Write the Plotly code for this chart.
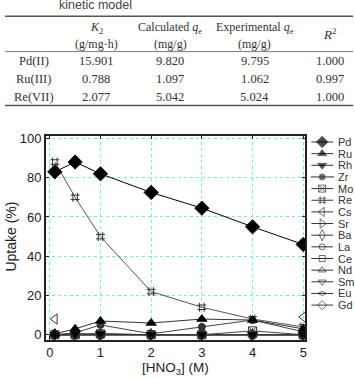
import plotly.graph_objects as go

# ---------------- table data ----------------
metals = ["Pd(II)", "Ru(III)", "Re(VII)"]
k2_vals = ["15.901", "0.788", "2.077"]
calc_qe = ["9.820", "1.097", "5.042"]
exp_qe = ["9.795", "1.062", "5.024"]
r2_vals = ["1.000", "0.997", "1.000"]
header1 = ["", "<i>K</i><sub>2</sub>", "Calculated <i>q</i><sub>e</sub>", "Experimental <i>q</i><sub>e</sub>"]
header2 = ["", "(g/mg·h)", "(mg/g)", "(mg/g)"]
r2_header = "<i>R</i><sup>2</sup>"

# ---------------- chart data ----------------
hno3 = [0.1, 0.5, 1, 2, 3, 4, 5]
elements = ["Pd", "Ru", "Rh", "Zr", "Mo", "Re", "Cs", "Sr", "Ba", "La", "Ce", "Nd", "Sm", "Eu", "Gd"]
pd_u = [83, 88, 82, 72.5, 64.5, 55, 46]
ru_u = [0.5, 3, 7, 6, 8, 7.5, 3]
rh_u = [0, 0.5, 0.5, 0, 0, 0, 0]
zr_u = [0, 1, 5, 0.5, 4, 7.5, 1.5]
mo_u = [0, 0, 0.5, 0, 0, 2, 0]
re_u = [88, 70, 50, 22, 14, 8, 4]
cs_u = [8, None, None, None, None, None, 9]
sr_u = [0, 0, 0, 0, 0, 0, 0]
ba_u = [0, 0, 0, 0, 0, 0, 0]
la_u = [0, 0, 0, 0, 0, 0, 0]
ce_u = [0, 0, 0, 0, 0, 0, 0]
nd_u = [0, 0, 0, 0, 0, 0, 0]
sm_u = [0, 0, 0, 0, 0, 0, 0]
eu_u = [0, 0, 0, 0, 0, 0, 0]
gd_u = [0, 0, 0, 0, 0, 0, 0]
series = [pd_u, ru_u, rh_u, zr_u, mo_u, re_u, cs_u, sr_u, ba_u, la_u, ce_u, nd_u, sm_u, eu_u, gd_u]

symbols = ["diamond", "triangle-up", "triangle-down", "circle-dot", "square-x-open",
           "hash-open", "triangle-left-open", "triangle-right-open", "diamond-tall-open",
           "circle-open", "square-open", "triangle-up-open", "triangle-down-open",
           "diamond-wide-open", "diamond-open"]
sizes = [11, 9, 9, 7, 8, 9, 9, 9, 9, 7, 7, 8, 8, 7, 8]
line_colors = ["#000000", "#333333", "#333333", "#444444", "#444444", "#555555", "#555555",
               "#555555", "#555555", "#555555", "#555555", "#555555", "#555555", "#555555", "#555555"]

W, H = 355, 378
def fx(px):
    return px / W
def fy(py):
    return 1 - py / H

fig = go.Figure()

# draw in reverse so Pd is on top
order = list(range(len(elements)))[::-1]
for i in order:
    sym = symbols[i]
    filled = not sym.endswith("open") and sym != "circle-dot"
    fig.add_trace(go.Scatter(
        x=hno3, y=series[i], mode="lines+markers", name=elements[i],
        line=dict(color=line_colors[i], width=1),
        marker=dict(symbol=sym, size=sizes[i], color="#000000" if filled else "#333333",
                    line=dict(color="#111111" if filled else "#333333", width=1)),
        connectgaps=False, showlegend=False, xaxis="x", yaxis="y"))

# custom legend keys (on a separate hidden axis)
leg_marker_sizes = [9, 8, 8, 6, 7, 8, 8, 8, 8, 6, 6, 7, 7, 6, 7]
for i, el in enumerate(elements):
    sym = symbols[i]
    filled = not sym.endswith("open") and sym != "circle-dot"
    fig.add_trace(go.Scatter(
        x=[0, 0.5, 1], y=[i, i, i], mode="lines+markers",
        line=dict(color="#333333", width=1),
        marker=dict(symbol=sym, size=[0, leg_marker_sizes[i], 0],
                    color="#000000" if filled else "#333333",
                    line=dict(color="#333333", width=1)),
        showlegend=False, xaxis="x2", yaxis="y2", hoverinfo="skip"))
    fig.add_annotation(x=1.12, y=i, xref="x2", yref="y2", text=el, showarrow=False,
                       xanchor="left", yanchor="middle",
                       font=dict(family="Liberation Sans", size=11, color="#333333"))

# ---------------- axes ----------------
grid_col = "#7FE3F2"
fig.update_layout(
    width=W, height=H, margin=dict(l=0, r=0, t=0, b=0),
    paper_bgcolor="white", plot_bgcolor="white",
    xaxis=dict(domain=[fx(46), fx(307)], range=[-0.08, 5.04], tickvals=[0, 1, 2, 3, 4, 5],
               showgrid=True, gridcolor=grid_col, griddash="dot", gridwidth=1,
               zeroline=False, showline=True, linecolor="#222222", linewidth=1.5,
               mirror="ticks", ticks="inside", ticklen=4, tickcolor="#222222",
               tickfont=dict(family="Liberation Sans", size=13, color="#222222"),
               anchor="y"),
    yaxis=dict(domain=[fy(342), fy(134)], range=[-2.5, 101.5], tickvals=[0, 20, 40, 60, 80, 100],
               showgrid=True, gridcolor=grid_col, griddash="dot", gridwidth=1,
               zeroline=False, showline=True, linecolor="#222222", linewidth=1.5,
               mirror="ticks", ticks="inside", ticklen=4, tickcolor="#222222",
               tickfont=dict(family="Liberation Sans", size=13, color="#222222"),
               anchor="x"),
    xaxis2=dict(domain=[fx(313), 1.0], range=[0, (355 - 313) / 22], visible=False, anchor="y2",
                fixedrange=True),
    yaxis2=dict(domain=[fy(330), fy(130)],
                range=[(330 - 140.6) / 11.87, (130 - 140.6) / 11.87],
                visible=False, anchor="x2", fixedrange=True),
)

# axis titles
fig.add_annotation(x=fx(176), y=fy(371.5), xref="paper", yref="paper", showarrow=False,
                   text="[HNO<sub>3</sub>] (M)", xanchor="center", yanchor="middle",
                   font=dict(family="Liberation Sans", size=13.5, color="#222222"))
fig.add_annotation(x=fx(11), y=fy(237), xref="paper", yref="paper", showarrow=False,
                   text="Uptake (%)", textangle=-90, xanchor="center", yanchor="middle",
                   font=dict(family="Liberation Sans", size=14, color="#222222"))

# ---------------- table ----------------
serif = "Liberation Serif"
tcol = "#333333"
col_x = [34, 97, 171, 256, 332]
# caption fragment (cut at top)
fig.add_annotation(x=fx(57), y=fy(1), xref="paper", yref="paper", showarrow=False,
                   text="kinetic model", xanchor="left", yanchor="middle",
                   font=dict(family="Liberation Sans", size=12.5, color="#444444"))
for j in range(1, 4):
    fig.add_annotation(x=fx(col_x[j]), y=fy(24), xref="paper", yref="paper", showarrow=False,
                       text=header1[j], xanchor="center", yanchor="middle",
                       font=dict(family=serif, size=12, color=tcol))
    fig.add_annotation(x=fx(col_x[j]), y=fy(41), xref="paper", yref="paper", showarrow=False,
                       text=header2[j], xanchor="center", yanchor="middle",
                       font=dict(family=serif, size=12, color=tcol))
fig.add_annotation(x=fx(col_x[4]), y=fy(31), xref="paper", yref="paper", showarrow=False,
                   text=r2_header, xanchor="center", yanchor="middle",
                   font=dict(family=serif, size=13, color=tcol))
row_y = [58.5, 76.5, 94.5]
cols = [metals, k2_vals, calc_qe, exp_qe, r2_vals]
for r in range(len(metals)):
    for c, col in enumerate(cols):
        fig.add_annotation(x=fx(col_x[c]), y=fy(row_y[r]), xref="paper", yref="paper",
                           showarrow=False, text=col[r], xanchor="center", yanchor="middle",
                           font=dict(family=serif, size=12.5, color=tcol))

# table rules
for py, lw in [(12.5, 1.5), (48.5, 0.8), (103.5, 1.5)]:
    fig.add_shape(type="line", xref="paper", yref="paper", x0=fx(5), x1=1.0, y0=fy(py), y1=fy(py),
                  line=dict(color="#555555", width=lw))

fig.write_html("out.html")
